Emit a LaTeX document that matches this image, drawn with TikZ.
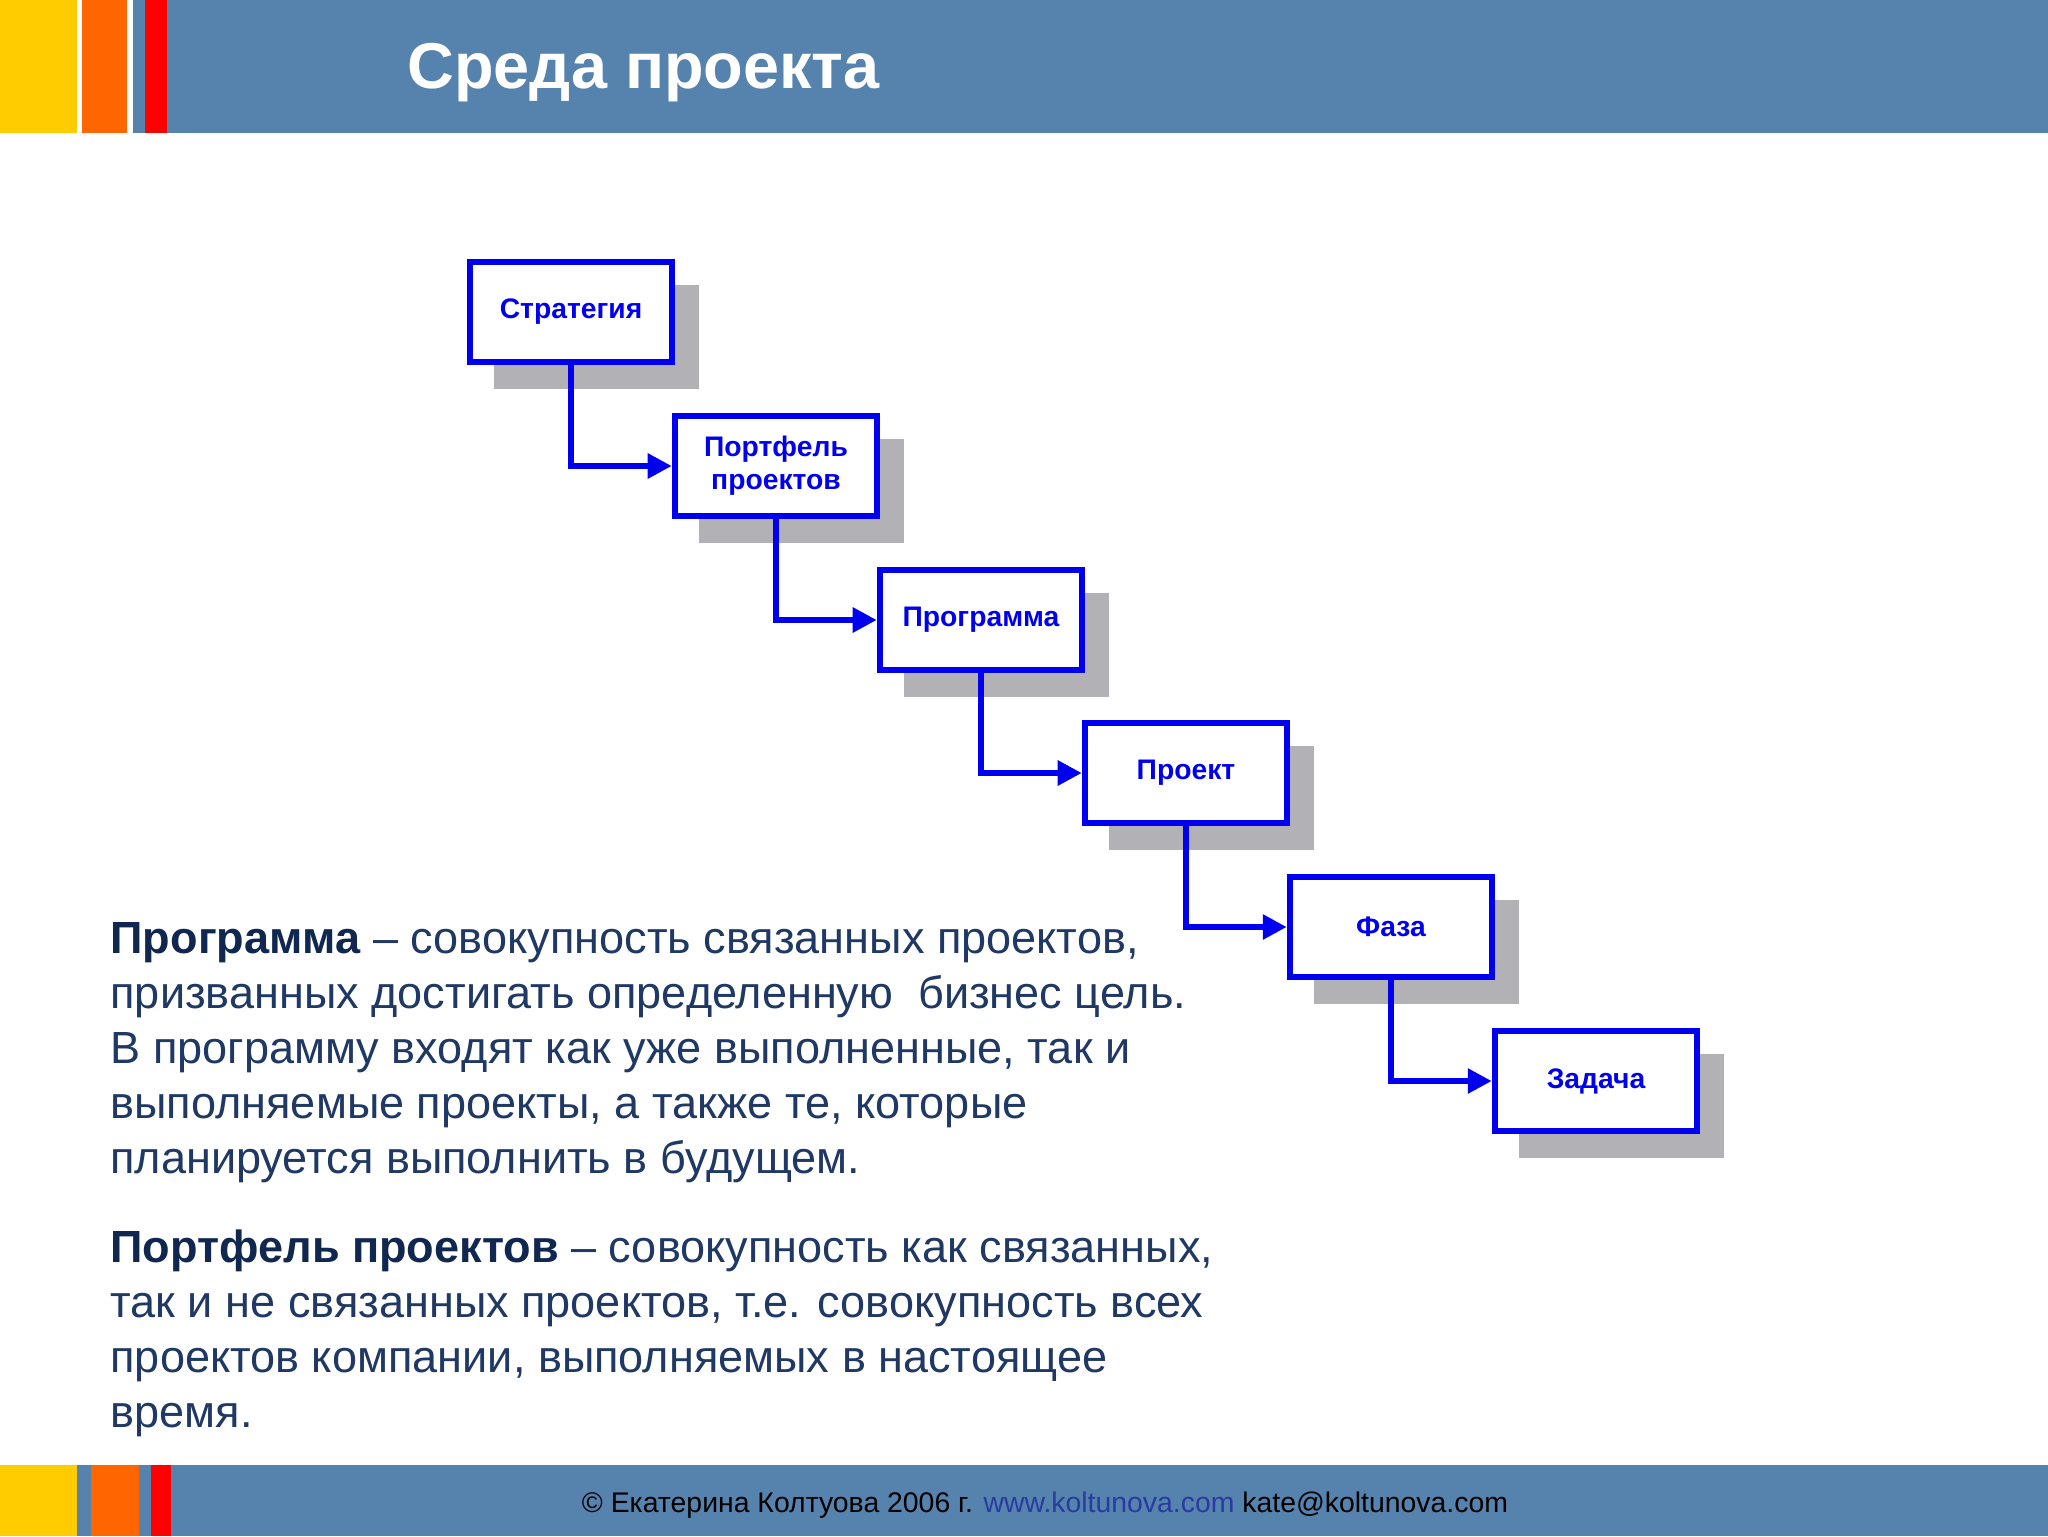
\documentclass[tikz,border=0pt]{standalone}
\usepackage{fontspec}
\setmainfont{Liberation Sans}
\usetikzlibrary{arrows.meta}
\definecolor{band}{RGB}{86,130,174}
\definecolor{yel}{RGB}{255,204,0}
\definecolor{org}{RGB}{255,102,0}
\definecolor{bx}{RGB}{0,0,238}
\definecolor{navy}{RGB}{31,56,100}
\definecolor{navyb}{RGB}{16,40,80}
\definecolor{shd}{RGB}{178,178,182}
\definecolor{lnk}{RGB}{40,60,160}
\tikzset{
 stepbox/.style={draw=bx,line width=2.2pt,fill=white,minimum width=76pt,minimum height=37.5pt,inner sep=0pt,align=center,text=bx,font=\fontsize{10.6}{12.4}\selectfont\bfseries},
 link/.style={draw=bx,line width=2.2pt,-{Triangle[length=9pt,width=9pt]}},
 body/.style={anchor=base west,text=navy,font=\fontsize{16.9}{20.6}\selectfont,align=left,inner sep=0pt}
}
\begin{document}
\begin{tikzpicture}[x=0.375pt,y=-0.375pt]
\useasboundingbox (0,0) rectangle (2048,1536);
\fill[white] (0,0) rectangle (2048,1536);
% top band
\fill[band] (0,0) rectangle (2048,133);
\fill[yel] (0,0) rectangle (77,133);
\fill[white] (77,0) rectangle (82,133);
\fill[org] (82,0) rectangle (127,133);
\fill[white] (127,0) rectangle (133,133);
\fill[red] (145,0) rectangle (167,133);
\node[anchor=base west,text=white,font=\fontsize{24.3}{30}\selectfont\bfseries,inner sep=0pt] (title) at (407,88) {Среда проекта};
% bottom band
\fill[band] (0,1465) rectangle (2048,1536);
\fill[yel] (0,1465) rectangle (77,1536);
\fill[org] (91,1465) rectangle (139,1536);
\fill[red] (151,1465) rectangle (171,1536);
\node[anchor=base,font=\fontsize{10.65}{12}\selectfont,inner sep=0pt] (foot) at (1045,1512) {© Екатерина Колтуова 2006 г. \textcolor{lnk}{www.koltunova.com} kate@koltunova.com};
% boxes
\foreach \n/\x/\y in {a/571/312, b/776/466, c/981/620, d/1186/773, e/1391/927, f/1596/1081}{
  \fill[shd] (\x-77,\y-27) rectangle (\x+128,\y+77);
}
\node[stepbox] (a) at (571,312) {Стратегия};
\node[stepbox] (b) at (776,466) {Портфель\\проектов};
\node[stepbox] (c) at (981,620) {Программа};
\node[stepbox] (d) at (1186,773) {Проект};
\node[stepbox] (e) at (1391,927) {Фаза};
\node[stepbox] (f) at (1596,1081) {Задача};
\draw[link] (a.south) |- (b.west);
\draw[link] (b.south) |- (c.west);
\draw[link] (c.south) |- (d.west);
\draw[link] (d.south) |- (e.west);
\draw[link] (e.south) |- (f.west);
% text
\node[body,anchor=north west] (t1) at (110,922) {\textcolor{navyb}{\textbf{Программа}} – совокупность связанных проектов,\\призванных достигать определенную\ \ бизнес цель.\\В программу входят как уже выполненные, так и\\выполняемые проекты, а также те, которые\\планируется выполнить в будущем.};
\node[body,anchor=north west] (t2) at (110,1229) {\textcolor{navyb}{\textbf{Портфель проектов}} – совокупность как связанных,\\так и не связанных проектов, т.е. совокупность всех\\проектов компании, выполняемых в настоящее\\время.};
\end{tikzpicture}
\end{document}
